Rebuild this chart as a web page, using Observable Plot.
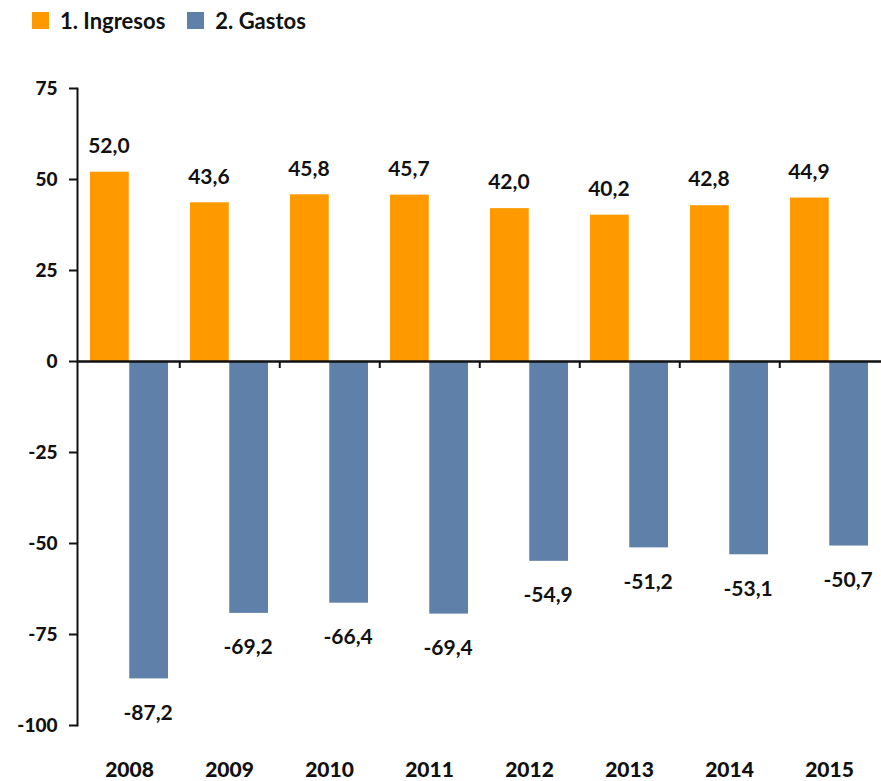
<!DOCTYPE html>
<html>
<head>
<meta charset="utf-8">
<script src="https://cdn.jsdelivr.net/npm/d3@7"></script>
<script src="https://cdn.jsdelivr.net/npm/@observablehq/plot@0.6"></script>
<style>
  body { margin: 0; background: #fff; }
  #wrap { position: relative; width: 881px; height: 781px; font-family: Lato, "Open Sans", sans-serif; }
  #legend { position: absolute; top: 4px; left: 32px; }
</style>
</head>
<body>
<div id="wrap"><div id="legend"></div><div id="chart"></div></div>
<script>
const years = ["2008", "2009", "2010", "2011", "2012", "2013", "2014", "2015"];
const ingresos = [52.0, 43.6, 45.8, 45.7, 42.0, 40.2, 42.8, 44.9];
const gastos = [-87.2, -69.2, -66.4, -69.4, -54.9, -51.2, -53.1, -50.7];
const series = ["1. Ingresos", "2. Gastos"];
const colors = ["#ff9900", "#5f80a8"];
const yTicks = [75, 50, 25, 0, -25, -50, -75, -100];

const W = 881, H = 781, ML = 77, MR = 0, MT = 88, MB = 56;
const step = (W - ML - MR) / years.length;
const fmt = d3.formatLocale({decimal: ",", thousands: ".", grouping: [3], minus: "-"}).format(".1f");
const font = {fontFamily: "Lato, sans-serif", fontWeight: "bold"};

const plot = Plot.plot({
  width: W, height: H,
  marginLeft: ML, marginRight: MR, marginTop: MT, marginBottom: MB,
  style: {fontFamily: "Lato, sans-serif", fontWeight: "bold", color: "#111", background: "#fff"},
  x: {type: "band", domain: years, padding: 0},
  y: {domain: [-100, 75]},
  color: {domain: series, range: colors},
  marks: [
    Plot.barY(ingresos, {x: (d, i) => years[i], y: d => d, fill: () => series[0], insetLeft: 11, insetRight: step / 2}),
    Plot.barY(gastos, {x: (d, i) => years[i], y: d => d, fill: () => series[1], insetLeft: step / 2, insetRight: 11}),
    Plot.text(ingresos, {x: (d, i) => years[i], y: d => d, text: d => fmt(d), dx: -(step / 2 - 11) / 2 - 1, dy: -26, fontSize: 21, ...font, fill: "#111"}),
    Plot.text(gastos, {x: (d, i) => years[i], y: d => d, text: d => fmt(d), dx: (step / 2 - 11) / 2 - 1, dy: 34, fontSize: 21, ...font, fill: "#111"}),
    Plot.axisY({ticks: yTicks, tickFormat: d => String(d), tickSize: 8, tickPadding: 12, strokeWidth: 2, fontSize: 19, ...font, fontWeight: 900}),
    Plot.axisX({tickSize: 0, tickPadding: 37, fontSize: 21, ...font, fontWeight: 900}),
    Plot.frame({anchor: "left", strokeWidth: 2}),
    Plot.ruleY([0], {strokeWidth: 2.5}),
    Plot.ruleX(years.slice(0, -1), {x: d => d, y1: 0, y2: 0, dx: step / 2, insetBottom: -7, strokeWidth: 2})
  ]
});
document.getElementById("chart").appendChild(plot);
const leg = plot.legend("color", {
  swatchSize: 17,
  style: {fontFamily: "Lato, sans-serif", fontWeight: "bold", fontSize: "22px", color: "#111"}
});
document.getElementById("legend").appendChild(leg);
</script>
</body>
</html>
